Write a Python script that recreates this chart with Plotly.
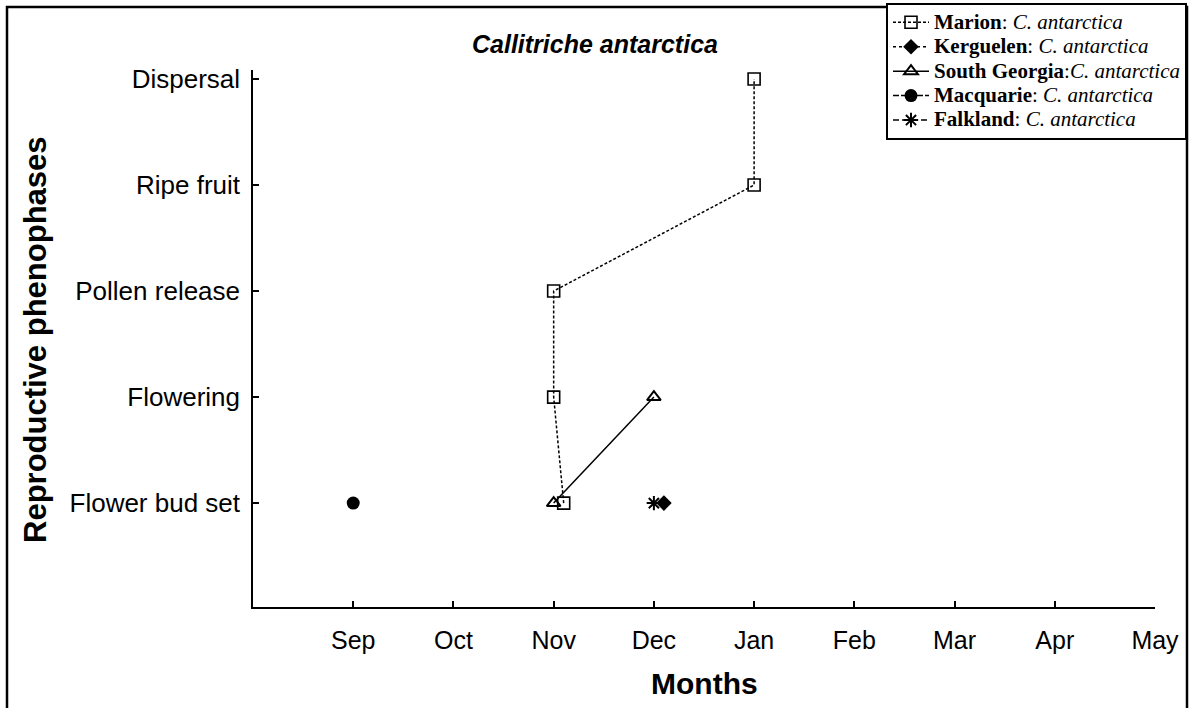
import plotly.graph_objects as go

# ---- data ----
phases = ["Flower bud set", "Flowering", "Pollen release", "Ripe fruit", "Dispersal"]
months = ["Sep", "Oct", "Nov", "Dec", "Jan", "Feb", "Mar", "Apr", "May"]
month_pos = [1, 2, 3, 4, 5, 6, 7, 8, 9]  # months after August

marion_x = [3.1, 3.0, 3.0, 5.0, 5.0]
marion_y = ["Flower bud set", "Flowering", "Pollen release", "Ripe fruit", "Dispersal"]
kerguelen_x = [4.1]
kerguelen_y = ["Flower bud set"]
sgeorgia_x = [3.0, 4.0]
sgeorgia_y = ["Flower bud set", "Flowering"]
macquarie_x = [1.0]
macquarie_y = ["Flower bud set"]
falkland_x = [4.0]
falkland_y = ["Flower bud set"]

def yidx(lst):
    return [phases.index(v) + 1 for v in lst]

W, H = 1192, 708
L, R, T, B = 253, 1155, 70, 607  # plot area in pixels
pw, ph = R - L, B - T
def px(x):
    return (x - L) / pw
def py(y):
    return (B - y) / ph

sans = "Liberation Sans, Arial, sans-serif"
serif = "Liberation Serif, Times New Roman, serif"

def leg(site, sep=": "):
    return ('<span style="font-size:21px"><b>%s</b>%s<i>C. antarctica</i></span>' % (site, sep))

fig = go.Figure()
fig.add_trace(go.Scatter(
    x=marion_x, y=yidx(marion_y), mode="lines+markers",
    name=leg("Marion"),
    line=dict(color="black", width=1.5, dash="3px,2px"),
    marker=dict(symbol="square-open", size=12, color="black", line=dict(width=1.6, color="black"))))
fig.add_trace(go.Scatter(
    x=kerguelen_x, y=yidx(kerguelen_y), mode="lines+markers",
    name=leg("Kerguelen"),
    line=dict(color="black", width=1.5, dash="dot"),
    marker=dict(symbol="diamond", size=12, color="black")))
fig.add_trace(go.Scatter(
    x=sgeorgia_x, y=yidx(sgeorgia_y), mode="lines+markers",
    name=leg("South Georgia", ":"),
    line=dict(color="black", width=1.5),
    marker=dict(symbol="triangle-up-open", size=12, color="black", line=dict(width=2, color="black"))))
fig.add_trace(go.Scatter(
    x=macquarie_x, y=yidx(macquarie_y), mode="lines+markers",
    name=leg("Macquarie"),
    line=dict(color="black", width=1.5, dash="6px,2px"),
    marker=dict(symbol="circle", size=13, color="black")))
fig.add_trace(go.Scatter(
    x=falkland_x, y=yidx(falkland_y), mode="lines+markers",
    name=leg("Falkland"),
    line=dict(color="black", width=1.5, dash="6px,3px,2px,3px"),
    marker=dict(symbol="asterisk-open", size=12, color="black", line=dict(width=2, color="black"))))

fig.update_layout(
    width=W, height=H,
    margin=dict(l=L, r=W - R, t=T, b=H - B, pad=0, autoexpand=False),
    paper_bgcolor="white", plot_bgcolor="white",
    font=dict(family=sans, color="black"),
    showlegend=True,
    legend=dict(
        x=px(1187), xanchor="right", y=py(3), yanchor="top",
        bgcolor="white", bordercolor="black", borderwidth=2,
        font=dict(family=serif, size=16.5, color="black"),
        tracegroupgap=0, itemwidth=36),
    xaxis=dict(
        range=[0, 9], tickvals=month_pos, ticktext=months,
        showgrid=False, zeroline=False, showline=True, linecolor="black", linewidth=1.5,
        ticks="inside", ticklen=6, tickwidth=1.5, tickcolor="black",
        tickfont=dict(size=25, family=sans), ticklabelstandoff=10, automargin=False),
    yaxis=dict(
        range=[0.02, 5.085], tickvals=[1, 2, 3, 4, 5], ticktext=phases,
        showgrid=False, zeroline=False, showline=True, linecolor="black", linewidth=1.5,
        ticks="inside", ticklen=6, tickwidth=1.5, tickcolor="black",
        tickfont=dict(size=26, family=sans), ticklabelstandoff=6, automargin=False),
    annotations=[
        dict(text="<b><i>Callitriche antarctica</i></b>", xref="paper", yref="paper",
             x=px(595), y=py(44), xanchor="center", yanchor="middle", showarrow=False,
             font=dict(size=25, family=sans)),
        dict(text="<b>Months</b>", xref="paper", yref="paper",
             x=0.5, y=py(683), xanchor="center", yanchor="middle", showarrow=False,
             font=dict(size=30, family=sans)),
        dict(text="<b>Reproductive phenophases</b>", xref="paper", yref="paper",
             x=px(35), y=py(340), xanchor="center", yanchor="middle", showarrow=False,
             textangle=-90, font=dict(size=31, family=sans)),
    ],
    shapes=[
        dict(type="rect", xref="paper", yref="paper",
             x0=px(7), x1=px(1187), y0=py(730), y1=py(7),
             line=dict(color="black", width=2.5), fillcolor="rgba(0,0,0,0)", layer="below"),
    ],
)

fig.write_html("out.html", config={"displayModeBar": False},
               post_script="document.body.style.margin='0';document.body.style.overflow='hidden';")
